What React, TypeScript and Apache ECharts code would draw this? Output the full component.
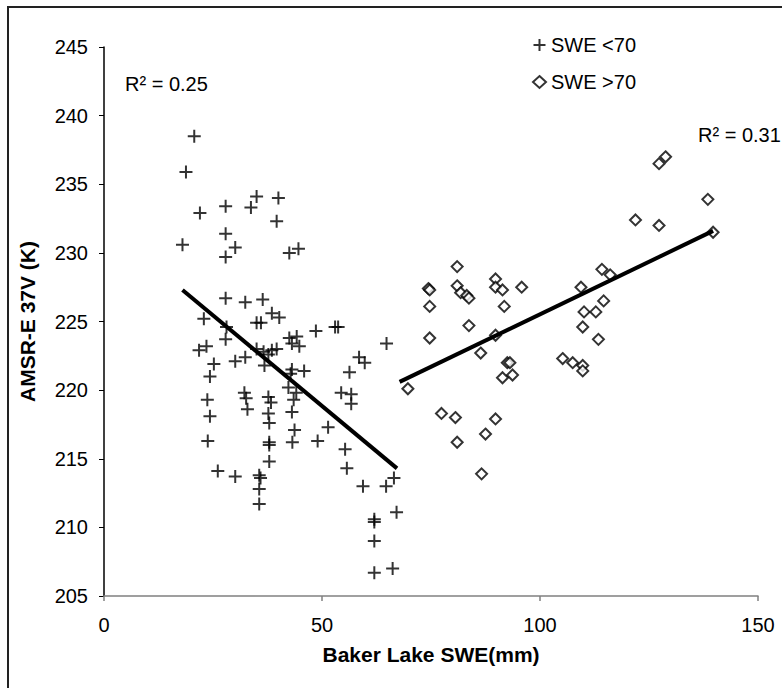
import React, { useEffect, useRef } from "react";
import * as echarts from "echarts";

// SWE < 70 (plus markers): [Baker Lake SWE (mm), AMSR-E 37V (K)]
const sweBelow70: number[][] = [
  [20.7, 238.5], [18.8, 235.9], [22.0, 232.9], [27.9, 233.4], [33.7, 233.3], [35.0, 234.1], [40.0, 234.0], [39.6, 232.3],
  [27.9, 231.4], [18.0, 230.6], [30.1, 230.4], [27.9, 229.7], [42.5, 230.0], [44.6, 230.3],
  [27.9, 226.7], [32.4, 226.4], [36.4, 226.6], [22.9, 225.2], [38.5, 225.6], [40.2, 225.3], [35.0, 224.9], [36.0, 224.9],
  [28.1, 224.6], [48.6, 224.3], [53.0, 224.6], [53.7, 224.6],
  [27.9, 223.7], [42.5, 223.8], [44.2, 223.9], [43.1, 223.4], [44.8, 223.2], [23.5, 223.2], [21.8, 222.9], [35.0, 223.0],
  [36.6, 222.8], [38.5, 222.9], [39.6, 223.0], [37.7, 222.6], [32.4, 222.4], [30.1, 222.1], [25.2, 221.9], [36.8, 221.8],
  [43.1, 221.5], [45.9, 221.4], [42.8, 221.2], [24.3, 221.0], [56.3, 221.3],
  [42.3, 220.2], [44.1, 219.8], [54.4, 219.8], [32.2, 219.8], [32.6, 219.4], [37.7, 219.5], [38.3, 219.1], [43.5, 219.3],
  [23.7, 219.3], [32.9, 218.6], [37.7, 218.3], [43.1, 218.4], [24.3, 218.1],
  [37.9, 217.6], [43.7, 217.1], [51.4, 217.3], [23.8, 216.3], [37.9, 216.2], [37.9, 216.0], [43.2, 216.2], [49.0, 216.3],
  [55.3, 215.7], [55.7, 214.3], [37.9, 214.8], [26.1, 214.1], [30.1, 213.7], [35.6, 213.8], [35.9, 213.6], [35.6, 212.8],
  [35.6, 211.7],
  [56.7, 219.7], [56.7, 219.0], [59.4, 213.0], [64.7, 213.0], [66.5, 213.6], [67.1, 211.1], [62.0, 210.6], [62.0, 210.4],
  [62.0, 209.0], [62.0, 206.7], [66.2, 207.0],
  [64.8, 223.4], [58.5, 222.4], [59.8, 222.0],
];

// SWE > 70 (diamond markers)
const sweAbove70: number[][] = [
  [69.7, 220.1], [74.4, 227.4], [74.7, 227.3], [74.7, 226.1], [74.7, 223.8], [77.4, 218.3], [80.6, 218.0], [81.0, 229.0],
  [81.0, 227.6], [81.8, 227.1], [83.2, 226.9], [83.7, 226.7], [83.7, 224.7], [86.4, 222.7], [89.8, 228.1], [89.8, 227.5],
  [91.4, 227.3], [95.8, 227.5], [91.8, 226.1], [89.8, 224.0], [92.5, 222.0], [93.1, 222.0], [91.4, 220.9], [93.7, 221.1],
  [89.8, 217.9], [81.0, 216.2], [87.5, 216.8], [86.6, 213.9],
  [105.2, 222.3], [107.5, 222.0], [109.8, 221.8], [109.8, 221.4], [109.4, 227.5], [110.1, 225.7], [112.8, 225.7], [109.8, 224.6],
  [113.4, 223.7], [114.6, 226.5], [114.2, 228.8], [116.1, 228.4], [121.9, 232.4], [127.3, 232.0], [127.3, 236.5], [128.8, 237.0],
  [138.5, 233.9], [139.7, 231.5],
];

// Linear trend line end points
const trendBelow70: number[][] = [[18.0, 227.3], [67.2, 214.3]];
const trendAbove70: number[][] = [[67.8, 220.6], [139.7, 231.6]];

const seriesNames = ["SWE <70", "SWE >70"];
const r2Labels = ["R\u00b2 = 0.25", "R\u00b2 = 0.31"];

const xTicks = { min: 0, max: 150, interval: 50 };
const yTicks = { min: 205, max: 245, interval: 5 };

const FONT = '"Liberation Sans", Arial, sans-serif';

export default function App() {
  const ref = useRef<HTMLDivElement>(null);
  useEffect(() => {
    document.body.style.margin = "0";
    if (!ref.current) return;
    const chart = echarts.init(ref.current, null, { renderer: "svg" });
    chart.setOption({
      animation: false,
      backgroundColor: "#fff",
      textStyle: { fontFamily: FONT },
      grid: { left: 104, right: 24, top: 47, bottom: 92, containLabel: false },
      legend: {
        data: seriesNames,
        orient: "vertical",
        left: 526,
        top: 30,
        itemWidth: 13,
        itemHeight: 12,
        itemGap: 17,
        textStyle: { fontSize: 20, color: "#000", fontFamily: FONT, lineHeight: 20 },
      },
      xAxis: {
        type: "value",
        min: xTicks.min,
        max: xTicks.max,
        interval: xTicks.interval,
        name: "Baker Lake SWE(mm)",
        nameLocation: "middle",
        nameGap: 48,
        nameTextStyle: { fontSize: 21, fontWeight: "bold", color: "#000", fontFamily: FONT },
        axisLine: { show: true, onZero: false, lineStyle: { color: "#808080", width: 1.5 } },
        axisTick: { show: true, inside: false, length: 5, lineStyle: { color: "#808080", width: 1.5 } },
        axisLabel: { fontSize: 20, color: "#000", margin: 19, fontFamily: FONT },
        splitLine: { show: false },
      },
      yAxis: {
        type: "value",
        min: yTicks.min,
        max: yTicks.max,
        interval: yTicks.interval,
        name: "AMSR-E 37V (K)",
        nameLocation: "middle",
        nameGap: 66,
        nameTextStyle: { fontSize: 21, fontWeight: "bold", color: "#000", fontFamily: FONT },
        axisLine: { show: true, onZero: false, lineStyle: { color: "#000", width: 1.5 } },
        axisTick: { show: true, inside: false, length: 5, lineStyle: { color: "#000", width: 1 } },
        axisLabel: { fontSize: 20, color: "#000", margin: 16, fontFamily: FONT },
        splitLine: { show: false },
      },
      graphic: [
        {
          type: "rect",
          shape: { x: 8, y: 7, width: 1200, height: 1200 },
          style: { fill: "none", stroke: "#222", lineWidth: 2 },
          silent: true,
        },
        {
          type: "text",
          left: 125,
          top: 74,
          style: { text: r2Labels[0], fontSize: 20, fill: "#000", fontFamily: FONT },
        },
        {
          type: "text",
          left: 698,
          top: 125,
          style: { text: r2Labels[1], fontSize: 20, fill: "#000", fontFamily: FONT },
        },
      ],
      series: [
        {
          name: seriesNames[0],
          type: "scatter",
          data: sweBelow70,
          symbol: "path://M0,6.5H13M6.5,0V13",
          symbolSize: 13,
          itemStyle: { color: "none", borderColor: "#000", borderWidth: 2 },
          z: 3,
        },
        {
          name: seriesNames[1],
          type: "scatter",
          data: sweAbove70,
          symbol: "diamond",
          symbolSize: 11,
          itemStyle: { color: "#fff", borderColor: "#000", borderWidth: 2 },
          z: 3,
        },
        {
          name: "trend <70",
          type: "line",
          data: trendBelow70,
          symbol: "none",
          lineStyle: { color: "#000", width: 4 },
          silent: true,
          z: 4,
        },
        {
          name: "trend >70",
          type: "line",
          data: trendAbove70,
          symbol: "none",
          lineStyle: { color: "#000", width: 4 },
          silent: true,
          z: 4,
        },
      ],
    });
    return () => chart.dispose();
  }, []);
  return <div ref={ref} style={{ width: 782, height: 688 }} />;
}
